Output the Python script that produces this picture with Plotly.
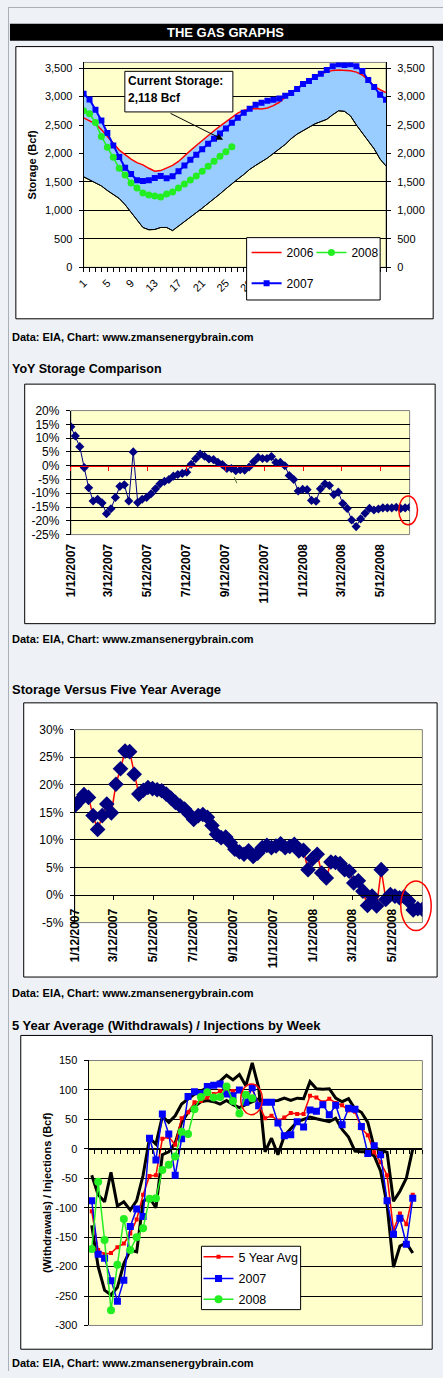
import plotly.graph_objects as go
import pandas as pd

W, H = 443, 1378
def fx(px): return px / W
def fy(py): return 1 - py / H

FONT = "Liberation Sans, Arial, sans-serif"
PAGE = "#EEF2F6"
YELLOW = "#FFFFCC"
NAVY = "#000080"
GREEN = "#22EE22"

# ---------------- Chart 1 : weekly storage (Bcf) ----------------
weeks = list(range(1, 53))
week_ticktext = [str(w) if w in (1, 5, 9, 13, 17, 21, 25, 29) else "" for w in weeks]
storage_2006 = [2625, 2575, 2520, 2420, 2300, 2180, 2060, 1980, 1900, 1840, 1800, 1740, 1690,
                1700, 1740, 1790, 1860, 1960, 2050, 2140, 2230, 2320, 2400, 2480, 2560, 2640,
                2710, 2760, 2780, 2790, 2780, 2800, 2840, 2900, 2990, 3060, 3150, 3220, 3290,
                3350, 3400, 3430, 3460, 3465, 3465, 3455, 3430, 3380, 3290, 3180, 3120, 3070]
storage_2007 = [3050, 2950, 2770, 2580, 2360, 2140, 1940, 1750, 1640, 1530, 1515, 1530, 1570,
                1605, 1565, 1600, 1690, 1790, 1890, 1980, 2075, 2170, 2260, 2350, 2440, 2540,
                2630, 2715, 2785, 2855, 2890, 2925, 2945, 2965, 3015, 3065, 3135, 3220, 3275,
                3345, 3400, 3465, 3535, 3570, 3555, 3570, 3535, 3450, 3290, 3170, 3030, 2945]
weeks_2008 = list(range(1, 27))
storage_2008 = [2752, 2700, 2543, 2300, 2110, 1935, 1742, 1620, 1481, 1394, 1307, 1272, 1255,
                1237, 1289, 1324, 1394, 1463, 1533, 1603, 1690, 1777, 1864, 1950, 2030, 2118]
range_min = [1590, 1540, 1490, 1430, 1350, 1280, 1210, 1100, 960, 820, 700, 660, 665,
             700, 700, 645, 720, 800, 880, 960, 1040, 1120, 1200, 1290, 1380, 1470,
             1550, 1630, 1720, 1790, 1850, 1920, 2000, 2080, 2160, 2260, 2340, 2400, 2460,
             2520, 2560, 2600, 2680, 2750, 2740, 2660, 2500, 2360, 2230, 2080, 1900, 1780]
range_max = [3050, 2950, 2770, 2580, 2360, 2180, 2060, 1980, 1900, 1840, 1800, 1740, 1690,
             1700, 1740, 1790, 1860, 1960, 2050, 2140, 2230, 2320, 2400, 2480, 2560, 2640,
             2710, 2760, 2785, 2855, 2890, 2925, 2945, 2965, 3015, 3065, 3150, 3220, 3290,
             3350, 3400, 3465, 3535, 3570, 3555, 3570, 3535, 3450, 3290, 3180, 3120, 3070]

# ---------------- Chart 2 & 3 : weekly % series ----------------
pct_dates = [d.strftime("%Y-%m-%d") for d in pd.date_range("2007-01-12", periods=77, freq="7D")]
date_tickvals = ["2007-01-12", "2007-03-12", "2007-05-12", "2007-07-12", "2007-09-12",
                 "2007-11-12", "2008-01-12", "2008-03-12", "2008-05-12"]
date_ticktext = ["1/12/2007", "3/12/2007", "5/12/2007", "7/12/2007", "9/12/2007",
                 "11/12/2007", "1/12/2008", "3/12/2008", "5/12/2008"]
yoy_pct = [14.1, 10.8, 6.9, -0.7, -8.0, -12.8, -12.2, -13.5, -17.4, -15.6, -11.5, -7.5, -6.9,
           -12.8, 5.0, -13.4, -12.2, -11.5, -10.2, -8.4, -6.6, -5.7, -5.0, -3.8, -3.2, -2.8,
           -2.4, 0.5, 2.5, 4.2, 3.4, 2.4, 2.2, 1.2, 0.4, -1.0, -1.0, -1.8, -1.5, -1.6, -0.5,
           1.4, 3.0, 2.6, 2.6, 3.3, 1.2, 1.2, 0.0, -3.6, -5.0, -9.2, -8.6, -8.7, -12.6, -12.9,
           -8.4, -6.6, -7.2, -10.5, -9.6, -13.7, -15.5, -19.7, -22.1, -19.3, -17.3, -15.5,
           -16.1, -15.7, -15.3, -15.3, -15.3, -15.1, -15.5, -15.3, -15.1]
vs5yr_pct = [16.2, 17.1, 18.2, 17.7, 14.4, 11.9, 14.4, 16.5, 14.9, 20.1, 22.9, 26.1, 26.0,
             21.9, 18.3, 19.0, 19.5, 19.3, 19.1, 18.9, 18.3, 17.6, 16.8, 16.2, 15.6, 14.7,
             13.7, 14.4, 14.6, 14.1, 12.6, 11.0, 10.4, 10.5, 9.5, 8.3, 7.8, 7.4, 8.0, 7.0,
             7.6, 8.6, 9.0, 8.6, 8.9, 9.3, 8.6, 8.8, 9.2, 8.0, 8.1, 4.6, 6.6, 7.4, 4.0, 3.1,
             6.0, 5.9, 5.7, 4.6, 4.3, 2.2, 2.6, 0.7, -1.9, -0.2, -2.0, 4.6, -0.8, 0.1, -0.2,
             -0.5, -0.3, -1.1, -2.7, -2.5, -2.6]
yoy_ticks = [-25, -20, -15, -10, -5, 0, 5, 10, 15, 20]
yoy_ticktext = ["-25%", "-20%", "-15%", "-10%", "-5%", "0%", "5%", "10%", "15%", "20%"]
vs5_ticks = [-5, 0, 5, 10, 15, 20, 25, 30]
vs5_ticktext = ["-5%", "0%", "5%", "10%", "15%", "20%", "25%", "30%"]

# ---------------- Chart 4 : weekly injections (Bcf) ----------------
inj_weeks = list(range(1, 52))
avg5 = [-106, -172, -179, -177, -167, -161, -144, -120, -78, -46, -45, 17, 20, 7, 52, 62,
        79, 81, 87, 93, 98, 101, 98, 101, 93, 101, 76, 52, 56, 48, 53, 61, 59, 59, 90, 87,
        79, 85, 78, 74, 65, 63, 35, 23, -6, -23, -45, -138, -110, -128, -78]
inj_2007 = [-88, -179, -186, -224, -259, -223, -132, -102, -115, 18, -19, 59, 25, -45, 17,
            89, 97, 94, 106, 108, 110, 93, 90, 100, 79, 104, 73, 79, 79, 44, 22, 24, 46, 37,
            66, 64, 75, 58, 74, 41, 69, 67, 38, -8, 5, -10, -88, -145, -118, -162, -84]
inj_weeks_2008 = list(range(1, 27))
inj_2008 = [-170, -56, -155, -274, -197, -119, -172, -150, -135, -85, -84, -36, -27, -13, 29,
            25, 67, 88, 96, 87, 88, 106, 81, 60, 92, 86]
band_a = [-45, -78, -90, -40, -97, -90, -104, -88, -45, 18, 8, 55, 45, 56, 76, 84, 93, 98,
          104, 107, 115, 125, 117, 126, 107, 146, 104, -5, 18, -10, 22, 34, 46, 50, 54, 51,
          48, 46, 52, 33, 20, -4, -5, -5, -12, -38, -95, -201, -165, -160, -177]
band_b = [-130, -200, -240, -248, -235, -195, -172, -175, -89, -83, -100, -10, -5, 10, 45,
          62, 72, 80, 82, 80, 76, 82, 75, 70, 75, 80, 85, 81, 82, 82, 86, 82, 86, 85, 114,
          102, 101, 102, 86, 80, 85, 68, 62, 45, 2, -2, -6, -89, -72, -50, 0]
inj_ticks = [-300, -250, -200, -150, -100, -50, 0, 50, 100, 150]
inj_ticktext = ["-300", "-250", "-200", "-150", "-100", "-50", "0", "50", "100", "150"]

# ---------------- geometry (page px) ----------------
D1x, D1y = [fx(77), fx(385)], [fy(263), fy(56)]
D2x, D2y = [fx(64), fx(409)], [fy(533), fy(407.7)]
D3x, D3y = [fx(68), fx(422)], [fy(925), fy(730)]
D4x, D4y = [fx(82), fx(422)], [fy(1332), fy(1064.3)]
R2, R3, R4 = [-25, 20], [-5, 30], [-300, 150]

def zero_pos(dom, rng):
    return dom[0] + (0 - rng[0]) / (rng[1] - rng[0]) * (dom[1] - dom[0])

fig = go.Figure()

# chart 1 traces
fig.add_trace(go.Scatter(x=weeks, y=range_min, mode="lines", line=dict(color="black", width=1),
                         xaxis="x", yaxis="y", showlegend=False, hoverinfo="skip"))
fig.add_trace(go.Scatter(x=weeks, y=range_max, mode="lines", line=dict(width=0), fill="tonexty",
                         fillcolor="#99CCFF", xaxis="x", yaxis="y", showlegend=False, hoverinfo="skip"))
fig.add_trace(go.Scatter(x=weeks, y=range_min, mode="lines", line=dict(color="black", width=1),
                         xaxis="x", yaxis="y", showlegend=False, hoverinfo="skip"))
fig.add_trace(go.Scatter(x=weeks, y=storage_2006, name="2006", mode="lines",
                         line=dict(color="#FF0000", width=1.5), xaxis="x", yaxis="y", legend="legend"))
fig.add_trace(go.Scatter(x=weeks, y=storage_2007, name="2007", mode="lines+markers",
                         line=dict(color="#0000FF", width=2),
                         marker=dict(symbol="square", size=6, color="#0000FF"),
                         xaxis="x", yaxis="y", legend="legend3"))
fig.add_trace(go.Scatter(x=weeks_2008, y=storage_2008, name="2008", mode="lines+markers",
                         line=dict(color=GREEN, width=1.5),
                         marker=dict(symbol="circle", size=7, color=GREEN),
                         xaxis="x", yaxis="y", legend="legend2"))
fig.add_trace(go.Scatter(x=weeks, y=storage_2007, mode="lines", line=dict(width=0), opacity=0,
                         xaxis="x", yaxis="y2", showlegend=False, hoverinfo="skip"))

# chart 2 traces
fig.add_trace(go.Scatter(x=pct_dates, y=yoy_pct, mode="lines+markers",
                         line=dict(color=NAVY, width=1),
                         marker=dict(symbol="diamond", size=7, color=NAVY),
                         xaxis="x3", yaxis="y3", showlegend=False))
fig.add_trace(go.Scatter(x=pct_dates, y=yoy_pct, mode="lines", line=dict(width=0), opacity=0,
                         xaxis="x4", yaxis="y3", showlegend=False, hoverinfo="skip"))

# chart 3 traces
fig.add_trace(go.Scatter(x=pct_dates, y=vs5yr_pct, mode="lines+markers",
                         line=dict(color="#FF0000", width=1.5),
                         marker=dict(symbol="diamond", size=12, color=NAVY),
                         xaxis="x5", yaxis="y5", showlegend=False))

# chart 4 traces
fig.add_trace(go.Scatter(x=inj_weeks, y=band_a, mode="lines", line=dict(color="black", width=3),
                         xaxis="x6", yaxis="y6", showlegend=False))
fig.add_trace(go.Scatter(x=inj_weeks, y=band_b, mode="lines", line=dict(color="black", width=3),
                         xaxis="x6", yaxis="y6", showlegend=False))
fig.add_trace(go.Scatter(x=inj_weeks, y=avg5, name="5 Year Avg", mode="lines+markers",
                         line=dict(color="#FF0000", width=1.5),
                         marker=dict(symbol="square", size=4, color="#FF0000"),
                         xaxis="x6", yaxis="y6", legend="legend4"))
fig.add_trace(go.Scatter(x=inj_weeks, y=inj_2007, name="2007", mode="lines+markers",
                         line=dict(color="#0000FF", width=1.5),
                         marker=dict(symbol="square", size=7, color="#0000FF"),
                         xaxis="x6", yaxis="y6", legend="legend5"))
fig.add_trace(go.Scatter(x=inj_weeks_2008, y=inj_2008, name="2008", mode="lines+markers",
                         line=dict(color=GREEN, width=1.5),
                         marker=dict(symbol="circle", size=8, color=GREEN),
                         xaxis="x6", yaxis="y6", legend="legend6"))

tf = lambda s, bold=False: dict(family=FONT, size=s, color="black", weight="bold" if bold else "normal")
common_y = dict(showline=True, linecolor="black", linewidth=1, ticks="outside", ticklen=4,
                tickcolor="black", showgrid=True, gridcolor="black", gridwidth=1, zeroline=False)

fig.update_layout(
    width=W, height=H, autosize=False, margin=dict(l=0, r=0, t=0, b=0),
    paper_bgcolor=PAGE, plot_bgcolor="rgba(0,0,0,0)",
    font=dict(family=FONT, color="black"),
    xaxis=dict(domain=D1x, anchor="y", range=[1, 52], tickmode="array", tickvals=weeks,
               ticktext=week_ticktext, tickangle=-45, ticks="outside", ticklen=4, tickcolor="black",
               showline=True, linecolor="black", showgrid=False, zeroline=False, tickfont=tf(11)),
    yaxis=dict(domain=D1y, anchor="x", range=[0, 3600], tickmode="linear", tick0=0, dtick=500,
               tickformat=",", tickfont=tf(11), ticklabelstandoff=4, **common_y),
    yaxis2=dict(overlaying="y", side="right", anchor="x", range=[0, 3600], tickmode="linear",
                tick0=0, dtick=500, tickformat=",", tickfont=tf(11), showline=True, linecolor="black",
                ticks="outside", ticklen=4, tickcolor="black", showgrid=False, zeroline=False,
                ticklabelstandoff=4),
    xaxis3=dict(domain=D2x, anchor="y3", type="date", range=[pct_dates[0], pct_dates[-1]],
                tickmode="array", tickvals=date_tickvals, ticktext=date_ticktext, tickangle=-90,
                ticks="", showline=False, showgrid=False, zeroline=False, tickfont=tf(12, True),
                ticklabelstandoff=6),
    xaxis4=dict(overlaying="x3", anchor="free", position=zero_pos(D2y, R2), type="date",
                range=[pct_dates[0], pct_dates[-1]], tickmode="array", tickvals=date_tickvals,
                showticklabels=False, ticks="outside", ticklen=4, tickcolor="#FF0000",
                showline=True, linecolor="#FF0000", linewidth=1, showgrid=False, zeroline=False),
    yaxis3=dict(domain=D2y, anchor="x3", range=R2, tickmode="array", tickvals=yoy_ticks,
                ticktext=yoy_ticktext, tickfont=tf(12), ticklabelstandoff=4, **common_y),
    xaxis5=dict(domain=D3x, anchor="free", position=zero_pos(D3y, R3), type="date",
                range=[pct_dates[0], pct_dates[-1]], tickmode="array", tickvals=date_tickvals,
                ticktext=date_ticktext, tickangle=-90, ticks="outside", ticklen=4, tickcolor="black",
                showline=True, linecolor="black", showgrid=False, zeroline=False,
                tickfont=tf(12, True), ticklabelstandoff=4),
    yaxis5=dict(domain=D3y, anchor="x5", range=R3, tickmode="array", tickvals=vs5_ticks,
                ticktext=vs5_ticktext, tickfont=tf(12), ticklabelstandoff=4, **common_y),
    xaxis6=dict(domain=D4x, anchor="free", position=zero_pos(D4y, R4), range=[0.5, 52.5],
                tickmode="linear", tick0=0.5, dtick=1, ticks="outside", ticklen=4, tickcolor="black",
                showticklabels=False, showline=True, linecolor="black", showgrid=False, zeroline=False),
    yaxis6=dict(domain=D4y, anchor="x6", range=R4, tickmode="array", tickvals=inj_ticks,
                ticktext=inj_ticktext, tickfont=tf(11), ticklabelstandoff=4, **common_y),
)

def leg(xp, yp, size):
    return dict(x=fx(xp), y=fy(yp), xanchor="left", yanchor="middle", bgcolor="rgba(0,0,0,0)",
                borderwidth=0, font=dict(family=FONT, size=size, color="black"), orientation="v")

fig.update_layout(legend=leg(243, 248, 12), legend2=leg(309, 248, 12), legend3=leg(243, 279, 12),
                  legend4=leg(194, 1263, 12.5), legend5=leg(194, 1285, 12.5), legend6=leg(194, 1306, 12.5))

shapes = []
def rect(x0, y0, x1, y1, fill, line, width=1, layer="below"):
    shapes.append(dict(type="rect", xref="paper", yref="paper", x0=fx(x0), x1=fx(x1), y0=fy(y1), y1=fy(y0),
                       fillcolor=fill, line=dict(color=line, width=width), layer=layer))

# page edge, header, chart frames
shapes.append(dict(type="line", xref="paper", yref="paper", x0=fx(0.5), x1=fx(0.5), y0=0, y1=1,
                   line=dict(color="#A8B0B8", width=1), layer="below"))
shapes.append(dict(type="line", xref="paper", yref="paper", x0=0, x1=1, y0=fy(0.5), y1=fy(0.5),
                   line=dict(color="#A8B0B8", width=1), layer="below"))
rect(2, 17, 443, 34, "black", "black", 0)
rect(8, 40, 433, 315, "white", "black")
rect(17, 381, 435, 623, "white", "black")
rect(16, 703, 437, 980, "white", "black")
rect(13, 1039, 432, 1356, "white", "black")
# plot area backgrounds and borders
for xa, ya in (("x", "y"), ("x3", "y3"), ("x5", "y5"), ("x6", "y6")):
    shapes.append(dict(type="rect", xref=xa + " domain", yref=ya + " domain", x0=0, x1=1, y0=0, y1=1,
                       fillcolor=YELLOW, line=dict(color="#808080", width=1), layer="below"))
# legend boxes
rect(243, 233, 379, 296, "white", "black", 1, "above")
rect(197, 1252, 298, 1316, "white", "black", 1, "above")
# callout box
rect(119, 65, 229, 106, "white", "black", 1, "above")
# red highlight ellipses
for (x0, y0, x1, y1) in ((398, 494, 417, 523), (400, 883, 431, 933), (237, 1088, 259, 1119)):
    shapes.append(dict(type="circle", xref="paper", yref="paper", x0=fx(x0), x1=fx(x1), y0=fy(y1), y1=fy(y0),
                       line=dict(color="#FF0000", width=1.5), layer="above"))
# small stray stroke in YoY chart
shapes.append(dict(type="line", xref="paper", yref="paper", x0=fx(230.5), x1=fx(233), y0=fy(475), y1=fy(481),
                   line=dict(color="#556B2F", width=1), layer="above"))
fig.update_layout(shapes=shapes)

ann = []
def text(xp, yp, s, size, bold=True, color="black", xanchor="left", angle=0):
    ann.append(dict(x=fx(xp), y=fy(yp), xref="paper", yref="paper", text=s, showarrow=False,
                    xanchor=xanchor, yanchor="middle", textangle=angle,
                    font=dict(family=FONT, size=size, color=color, weight="bold" if bold else "normal")))

text(222, 25.5, "THE GAS GRAPHS", 13, True, "white", "center")
caption = "Data: EIA, Chart: www.zmansenergybrain.com"
for yp in (333, 638, 996, 1370):
    text(2, yp, caption, 11)
text(2, 366, "YoY Storage Comparison", 12.5)
text(2, 689, "Storage Versus Five Year Average", 13)
text(2, 1029, "5 Year Average (Withdrawals) / Injections by Week", 13)
text(24, 159.5, "Storage (Bcf)", 11, True, "black", "center", -90)
text(40, 1198, "(Withdrawals) / Injections (Bcf)", 11, True, "black", "center", -90)
text(120, 74.5, "Current Storage:", 12)
text(120, 92, "2,118 Bcf", 12)
ann.append(dict(x=fx(219), y=fy(134), xref="paper", yref="paper", text="", showarrow=True,
                ax=-54, ay=-27, arrowhead=2, arrowsize=1.3, arrowwidth=1, arrowcolor="black"))
fig.update_layout(annotations=ann)

fig.write_html("out.html", config={"displayModeBar": False})
